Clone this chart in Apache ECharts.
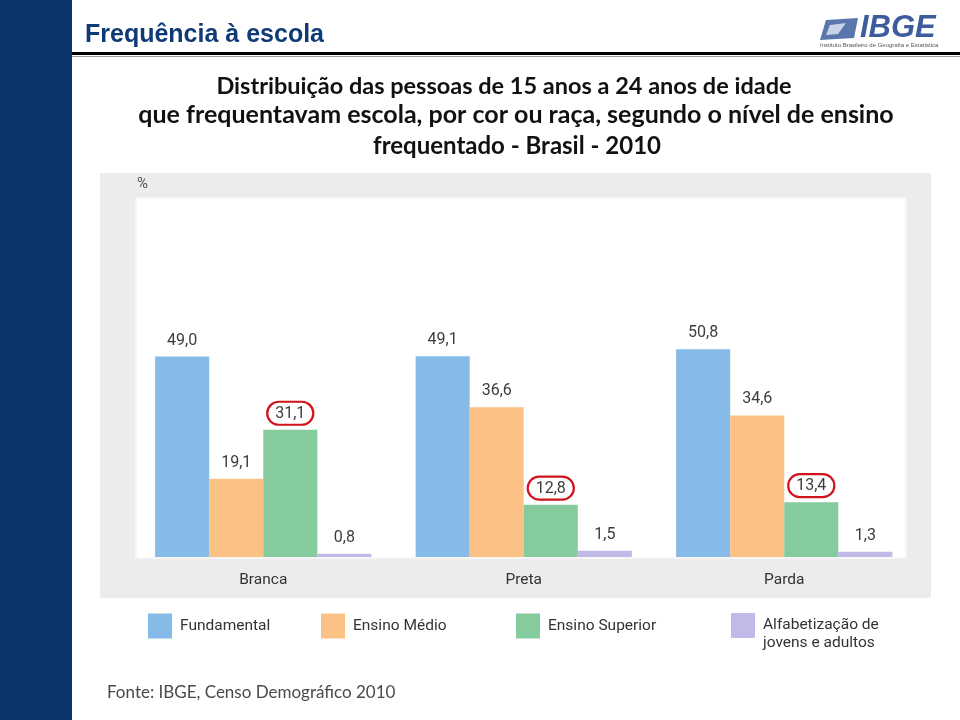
<!DOCTYPE html>
<html>
<head>
<meta charset="utf-8">
<script src="https://cdn.jsdelivr.net/npm/echarts@6/dist/echarts.min.js"></script>
<style>html,body{margin:0;padding:0;background:#fff}#c{width:960px;height:720px}</style>
</head>
<body>
<div id="c"></div>
<script>
var categories = ['Branca', 'Preta', 'Parda'];
var seriesNames = ['Fundamental', 'Ensino Médio', 'Ensino Superior', 'Alfabetização de\njovens e adultos'];
var fundamental = [49.0, 49.1, 50.8];
var ensinoMedio = [19.1, 36.6, 34.6];
var ensinoSuperior = [31.1, 12.8, 13.4];
var alfabetizacao = [0.8, 1.5, 1.3];
var colors = ['#86bbe8', '#fcc185', '#86cb9d', '#c1b9e8'];

function fmt(p) { return p.value.toFixed(1).replace('.', ','); }
var baseLabel = { show: true, position: 'top', distance: 8, formatter: fmt, color: '#3d3d3d', fontFamily: 'Roboto', fontSize: 16 };
var circledLabel = Object.assign({}, baseLabel, { distance: 5, borderColor: '#d0121b', borderWidth: 2.2, borderRadius: 14, padding: [4, 8, 3, 8] });

function bar(name, data, color, label) {
  return { name: name, type: 'bar', data: data, barGap: '0%', barCategoryGap: '17%',
    itemStyle: { color: color }, label: label, emphasis: { disabled: true } };
}

var legendLefts = [148, 321, 516, 731];
var legends = seriesNames.map(function (n, i) {
  var last = i === 3;
  return { data: [n], left: legendLefts[i], top: last ? 598.5 : 613.5, padding: 0, itemWidth: 24, itemHeight: 25, icon: 'rect',
    selectedMode: false,
    formatter: function (name) {
      var lines = name.split('\n').map(function (s) { return '{a|' + s + '}'; });
      if (lines.length > 1) lines.unshift('{a| }');
      return lines.join('\n');
    },
    textStyle: { fontFamily: 'Roboto', fontSize: 15.5, color: '#333', lineHeight: 18,
      rich: { a: { fontFamily: 'Roboto', fontSize: 15.5, color: '#333', lineHeight: 18, padding: [0, 0, 0, 3] } } } };
});

var chart = echarts.init(document.getElementById('c'), null, { renderer: 'canvas' });
chart.setOption({
  animation: false,
  backgroundColor: '#ffffff',
  graphic: [
    { type: 'rect', left: 0, top: 0, shape: { width: 72, height: 720 }, style: { fill: '#0b3468' }, z: 0 },
    { type: 'rect', left: 72, top: 52, shape: { width: 888, height: 3 }, style: { fill: '#000' } },
    { type: 'rect', left: 72, top: 56, shape: { width: 888, height: 1 }, style: { fill: '#9a9a9a' } },
    { type: 'rect', left: 100, top: 173, shape: { width: 831, height: 425 }, style: { fill: '#ececec' }, z: -2 },
    { type: 'rect', left: 135, top: 197, shape: { width: 770, height: 360 }, style: { fill: '#ffffff', stroke: '#f6f6f6', lineWidth: 2 }, z: -1 },
    // IBGE logo
    { type: 'polygon', shape: { points: [[826, 20], [858, 18], [854, 38], [820, 40]] }, style: { fill: '#5b76ad' } },
    { type: 'polygon', shape: { points: [[830, 25], [846, 23], [838, 34], [826, 35]] }, style: { fill: '#c9d3e8' } },
    { type: 'text', left: 860, top: 13, style: { text: 'IBGE', font: 'italic bold 31px "Liberation Sans"', fill: '#3e5b9c' } },
    { type: 'text', left: 820, top: 42, style: { text: 'Instituto Brasileiro de Geografia e Estatística', font: '6px "Liberation Sans"', fill: '#555' } }
  ],
  title: [
    { text: 'Frequência à escola', left: 85, top: 23, padding: 0, textStyle: { fontFamily: 'Liberation Sans', fontWeight: 'bold', fontSize: 25, color: '#0f3a76' } },
    { text: 'Distribuição das pessoas de 15 anos a 24 anos de idade', left: 504, textAlign: 'center', top: 74, padding: 0, textStyle: { fontFamily: 'Lato', fontWeight: 'bold', fontSize: 23.5, color: '#111' } },
    { text: 'que frequentavam escola, por cor ou raça, segundo o nível de ensino', left: 516, textAlign: 'center', top: 102, padding: 0, textStyle: { fontFamily: 'Lato', fontWeight: 'bold', fontSize: 25, color: '#111' } },
    { text: 'frequentado - Brasil - 2010', left: 517, textAlign: 'center', top: 134, padding: 0, textStyle: { fontFamily: 'Lato', fontWeight: 'bold', fontSize: 24, color: '#111' } },
    { text: '%', left: 137, top: 177, padding: 0, textStyle: { fontFamily: 'Roboto', fontWeight: 'normal', fontSize: 15, color: '#555' } },
    { text: 'Fonte: IBGE, Censo Demográfico 2010', left: 107, top: 684, padding: 0, textStyle: { fontFamily: 'Lato', fontWeight: 'normal', fontSize: 17, color: '#4a4a4a' } }
  ],
  legend: legends,
  grid: { left: 133, right: 45.5, top: 197, bottom: 163 },
  xAxis: { type: 'category', data: categories, axisLine: { show: false }, axisTick: { show: false },
    axisLabel: { margin: 15, fontFamily: 'Roboto', fontSize: 15.5, color: '#333' } },
  yAxis: { type: 'value', min: 0, max: 88, show: false, splitLine: { show: false } },
  series: [
    bar(seriesNames[0], fundamental, colors[0], baseLabel),
    bar(seriesNames[1], ensinoMedio, colors[1], baseLabel),
    bar(seriesNames[2], ensinoSuperior, colors[2], circledLabel),
    bar(seriesNames[3], alfabetizacao, colors[3], baseLabel)
  ]
});
</script>
</body>
</html>
